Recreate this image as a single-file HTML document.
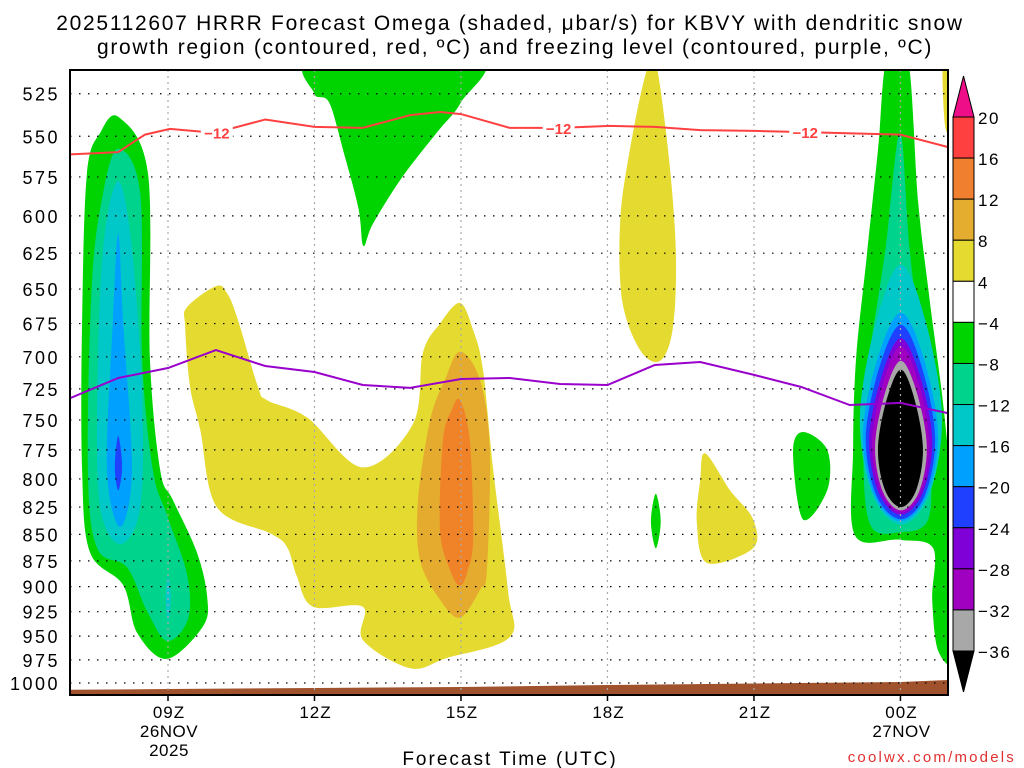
<!DOCTYPE html>
<html><head><meta charset="utf-8">
<style>
html,body{margin:0;padding:0;background:#fff;}
svg{display:block;font-family:"Liberation Sans",sans-serif;}
</style></head>
<body>
<svg id="chart" width="1024" height="768" viewBox="0 0 1024 768">
<text x="510" y="30" font-size="21" letter-spacing="1.7" text-anchor="middle">2025112607 HRRR Forecast Omega (shaded, μbar/s) for KBVY with dendritic snow</text>
<text x="515" y="54" font-size="21" letter-spacing="1.7" text-anchor="middle">growth region (contoured, red, ºC) and freezing level (contoured, purple, ºC)</text>
<g id="shades"></g>
<g id="grid"></g>
<g id="lines"></g>
<g id="axes"></g>
<g id="cbar"></g>
<text x="510" y="765" font-size="19" letter-spacing="2" text-anchor="middle">Forecast Time (UTC)</text>
<text x="1016" y="762" font-size="15" fill="#e03030" text-anchor="end" letter-spacing="2.2" font-family="Liberation Sans, sans-serif">coolwx.com/models</text>
</svg>
<script>
// ---- data ----
const pressureTicks=[525,550,575,600,625,650,675,700,725,750,775,800,825,850,875,900,925,950,975,1000];
const timeTicks=[9,12,15,18,21,24];
const timeLabels=["09Z","12Z","15Z","18Z","21Z","00Z"];
const dateLabels={9:["26NOV","2025"],24:["27NOV",""]};
const cbarLevels=["20","16","12","8","4","−4","−8","−12","−16","−20","−24","−28","−32","−36"];
const cbarColors=["#ff4040","#f08030","#e5ad30","#e5db30","#ffffff","#00d400","#00d38c","#00c8c8","#00a0ff","#2040ff","#8000d8","#a000c0","#a8a8a8"];
const redHours=[7.0,7.98,8.53,9.04,9.96,10.99,12.0,12.99,13.96,14.57,15.0,16.0,17.03,18.05,18.97,19.9,21.02,22.05,24.0,24.97];
const redPres=[561,559.6,549,545.6,548,540,544.4,545,537.4,535.6,536.8,545,545,543.8,544.4,546.3,546.8,547.5,549,556.5];
const redLabelHours=[10.0,17.0,22.05];
const frzHours=[7.0,7.98,9.0,9.98,10.99,12.0,12.99,13.96,15.0,16.0,17.03,18.0,18.97,19.9,21.0,21.97,22.96,24.0,24.97];
const frzPres=[732.3,716.4,708.6,694.9,707.1,711.7,721.9,724.2,717.2,716.4,721.1,721.9,706.3,704,714,723.5,737.9,736.2,744.4];
const sfcHours=[7,9,12,15,18,21,24,25];
const sfcPres=[1007.5,1006.6,1005.5,1004.4,1002.2,1000.5,998.9,996.7];
const leftGreen=[[7.99,538.6],[8.59,573],[8.63,701.6],[8.84,792.3],[9.1,818.6],[9.59,866.6],[9.8,909.4],[9.72,939.6],[8.98,974],[8.37,946.8],[8.08,898.4],[7.4,866.6],[7.24,792.3],[7.24,673.7],[7.34,573],[7.61,548]];
const leftTeal=[[7.98,557.5],[8.43,585.3],[8.47,701.6],[8.69,792.3],[8.98,832.3],[9.39,887.9],[9.41,932.4],[8.98,955.1],[8.57,924.3],[8.16,881.1],[7.55,862.9],[7.36,792.3],[7.44,647.3],[7.67,585.3]];
const leftCyan=[[7.98,577.6],[8.26,621.7],[8.47,730.6],[8.43,825.2],[8.02,859.1],[7.61,825.2],[7.55,730.6],[7.67,621.7]];
const leftCyan2=[[9.0,890],[9.06,912],[9.0,935],[8.95,912]];
const leftBlue=[[7.98,611.7],[8.08,673.7],[8.26,792.3],[8.02,843.2],[7.75,792.3],[7.87,673.7]];
const leftDkBlue=[[7.98,763],[8.06,789.5],[7.98,810],[7.91,789.5]];
const topGreen=[[12,505],[15.35,505],[15.0,530],[14.5,548],[13.8,575],[13.2,605],[13.0,620],[12.9,595],[12.6,560],[12.3,530],[12.0,525]];
const bigYellow=[[9.98,648],[9.39,663],[9.35,677],[9.45,723],[9.66,758],[10.0,825],[11.09,849],[11.44,862],[11.64,890],[11.97,920],[12.99,920],[12.99,954],[13.96,984],[14.71,973],[16.0,951],[15.96,903],[15.66,792],[15.45,710],[15.25,680],[14.98,660],[14.57,675],[14.22,697],[14.02,753],[12.99,790],[11.85,748],[11.03,734],[10.84,723],[10.43,672],[10.21,653]];
const darkYellow=[[14.98,696],[15.39,718],[15.59,775],[15.53,884],[15.39,903],[14.98,931],[14.57,913],[14.16,874],[14.12,819],[14.37,750],[14.67,718]];
const orangeCore=[[14.98,734],[15.18,767],[15.25,852],[15.14,884],[14.98,899],[14.78,884],[14.57,846],[14.63,767],[14.81,742]];
const tallYellow=[[18.97,505],[19.24,558],[19.4,623],[19.34,678],[19.08,703],[18.67,695],[18.3,658],[18.26,603],[18.46,558],[18.77,515]];
const smallGreen19=[[18.99,813],[19.09,838],[18.99,863],[18.89,838]];
const smallYellow20=[[20.0,778],[20.51,810],[20.98,836],[20.98,863],[20.04,877],[19.83,839],[19.9,801]];
const smallGreen22=[[22.0,760],[22.5,775],[22.5,810],[22.0,836],[21.8,777]];
const rightGreen=[[23.72,505],[24.15,505],[24.36,590],[24.6,658],[24.91,750],[25.1,855],[25.1,971],[24.77,965],[24.65,913],[24.67,863],[23.99,855],[23.07,851],[23.03,775],[23.09,702],[23.3,630],[23.54,558]];
const cornerYellow=[[24.87,505],[25.1,505],[25.1,540],[24.92,545]];
const rightTeal=[[23.99,548],[24.19,623],[24.5,718],[24.62,784],[24.56,837],[23.99,848],[23.38,841],[23.24,775],[23.36,702],[23.69,623]];
const lensColors=["#00c8c8","#00a0ff","#2040ff","#8000d8","#a000c0","#a8a8a8","#000000"];
const lensTop=[633,667,676,686,692,703,710];
const lensBottom=[841,838,836,832,830,828,825];
const lensLeft=[23.17,23.23,23.29,23.36,23.42,23.48,23.54];
const lensRight=[24.85,24.77,24.71,24.65,24.59,24.54,24.46];
const lensCenter=24.01;

// ---- axes ----
const X0=168,PXH=48.83,Y0=683,KY=914.5;
const PL=70,PR=948,PT=70,PB=695;
function xs(h){return X0+(h-9)*PXH;}
function ys(p){return Y0-KY*Math.log(1000/p);}
const NS="http://www.w3.org/2000/svg";
function mk(tag,attrs,parent){const e=document.createElementNS(NS,tag);for(const k in attrs)e.setAttribute(k,attrs[k]);parent.appendChild(e);return e;}
function smooth(pts){
  const P=pts.map(d=>[xs(d[0]),ys(d[1])]);const n=P.length;let s="M"+P[0][0].toFixed(1)+","+P[0][1].toFixed(1);
  for(let i=0;i<n;i++){const p0=P[(i-1+n)%n],p1=P[i],p2=P[(i+1)%n],p3=P[(i+2)%n];
    const c1=[p1[0]+(p2[0]-p0[0])/6,p1[1]+(p2[1]-p0[1])/6],c2=[p2[0]-(p3[0]-p1[0])/6,p2[1]-(p3[1]-p1[1])/6];
    s+="C"+c1[0].toFixed(1)+","+c1[1].toFixed(1)+" "+c2[0].toFixed(1)+","+c2[1].toFixed(1)+" "+p2[0].toFixed(1)+","+p2[1].toFixed(1);}
  return s+"Z";}
const svg=document.getElementById('chart');
const defs=mk('defs',{},svg);
const cp=mk('clipPath',{id:'plotclip'},defs);mk('rect',{x:PL,y:PT,width:PR-PL,height:PB-PT},cp);
const shades=document.getElementById('shades');shades.setAttribute('clip-path','url(#plotclip)');
const regions=[
 ["#00d400",leftGreen,"left-green-region"],["#00d38c",leftTeal,"left-teal-region"],["#00c8c8",leftCyan,"left-cyan-region"],["#00c8c8",leftCyan2,"left-cyan-spot"],
 ["#00a0ff",leftBlue,"left-blue-region"],["#2040ff",leftDkBlue,"left-darkblue-region"],["#00d400",topGreen,"upper-green-region"],
 ["#e5da30",bigYellow,"central-yellow-region"],["#e5ab2f",darkYellow,"central-darkyellow-region"],["#f08228",orangeCore,"central-orange-region"],
 ["#e5da30",tallYellow,"upper-yellow-region"],["#00d400",smallGreen19,"small-green-19z"],["#e5da30",smallYellow20,"small-yellow-20z"],["#00d400",smallGreen22,"small-green-22z"],
 ["#00d400",rightGreen,"right-green-region"],["#e5da30",cornerYellow,"corner-yellow-region"],["#00d38c",rightTeal,"right-teal-region"]];
regions.forEach(r=>{const e=mk('path',{d:smooth(r[1]),fill:r[0]},shades);
 
 });
lensColors.forEach((c,i)=>{const t=lensTop[i],b=lensBottom[i],l=lensLeft[i],r=lensRight[i],m=lensCenter;const pm=t+(b-t)*0.55;
 const pts=[[m,t],[m+(r-m)*0.6,t+(pm-t)*0.35],[r,pm],[m+(r-m)*0.7,pm+(b-pm)*0.7],[m,b],[m-(m-l)*0.7,pm+(b-pm)*0.7],[l,pm],[m-(m-l)*0.6,t+(pm-t)*0.35]];
 const e=mk('path',{d:smooth(pts),fill:c},shades);
 
 });
let gd="M"+xs(sfcHours[0])+","+PB;sfcHours.forEach((h,i)=>{gd+="L"+xs(h).toFixed(1)+","+ys(sfcPres[i]).toFixed(1);});gd+="L"+xs(sfcHours[sfcHours.length-1])+","+PB+"Z";
const g=mk('path',{d:gd,fill:"#a0522d"},shades);


const grid=document.getElementById('grid');
pressureTicks.forEach(p=>{const l=mk('line',{x1:PL,x2:PR,y1:ys(p),y2:ys(p),stroke:"#000","stroke-width":1.2,"stroke-dasharray":"1.5 7.5"},grid);
 
 });
timeTicks.forEach(h=>{const l=mk('line',{x1:xs(h),x2:xs(h),y1:PT,y2:PB,stroke:"#aaa","stroke-width":1.2,"stroke-dasharray":"2 4"},grid);
 
 });
const lines=document.getElementById('lines');lines.setAttribute('clip-path','url(#plotclip)');
function poly(hs,ps){return hs.map((h,i)=>xs(h).toFixed(1)+","+ys(ps[i]).toFixed(1)).join(" ");}
const rl=mk('polyline',{points:poly(redHours,redPres),fill:"none",stroke:"#ff4040","stroke-width":2},lines);


const fl=mk('polyline',{points:poly(frzHours,frzPres),fill:"none",stroke:"#9900cc","stroke-width":2},lines);


function interp(hs,ps,h){for(let i=0;i<hs.length-1;i++){if(h>=hs[i]&&h<=hs[i+1]){return ps[i]+(ps[i+1]-ps[i])*(h-hs[i])/(hs[i+1]-hs[i]);}}return ps[0];}
redLabelHours.forEach(h=>{const x=xs(h),y=ys(interp(redHours,redPres,h));
 mk('rect',{x:x-16,y:y-7,width:32,height:14,fill:"#fff"},lines);
 const t=mk('text',{x:x,y:y+6,"font-size":15,"font-weight":"bold",fill:"#ff4040","text-anchor":"middle"},lines);t.textContent="−12";
 
 });
const ax=document.getElementById('axes');
mk('rect',{x:PL,y:PT,width:PR-PL,height:PB-PT,fill:"none",stroke:"#000","stroke-width":2},ax);
pressureTicks.forEach(p=>{const t=mk('text',{x:60,y:ys(p)+7,"font-size":18,"letter-spacing":"2.5","text-anchor":"end"},ax);t.textContent=p;
 
 });
timeTicks.forEach((h,i)=>{mk('line',{x1:xs(h),x2:xs(h),y1:PB,y2:PB+6,stroke:"#000","stroke-width":1.5},ax);
 const t=mk('text',{x:xs(h)+1,y:718,"font-size":17,"letter-spacing":"1","text-anchor":"middle"},ax);t.textContent=timeLabels[i];
 
 
 if(dateLabels[h]){dateLabels[h].forEach((s,j)=>{const d=mk('text',{x:xs(h)+1,y:737+j*19,"font-size":17,"letter-spacing":"0.5","text-anchor":"middle"},ax);d.textContent=s;
  
  });}});
const cb=document.getElementById('cbar');const CX=953,CW=21,CT=117,CH=(651-117)/cbarColors.length;
const tt=mk('polygon',{points:`${CX},${CT} ${CX+CW},${CT} ${CX+CW/2},${76}`,fill:"#ee0f88",stroke:"#000","stroke-width":1},cb);


cbarColors.forEach((c,i)=>{const r=mk('rect',{x:CX,y:CT+i*CH,width:CW,height:CH,fill:c,stroke:"#000","stroke-width":1},cb);
 
 });
const bt=mk('polygon',{points:`${CX},${651} ${CX+CW},${651} ${CX+CW/2},${692}`,fill:"#000",stroke:"#000","stroke-width":1},cb);


cbarLevels.forEach((s,i)=>{const t=mk('text',{x:978,y:CT+i*CH+7,"font-size":17,"letter-spacing":"1.5"},cb);t.textContent=s;
 
 });
</script>
</body></html>
